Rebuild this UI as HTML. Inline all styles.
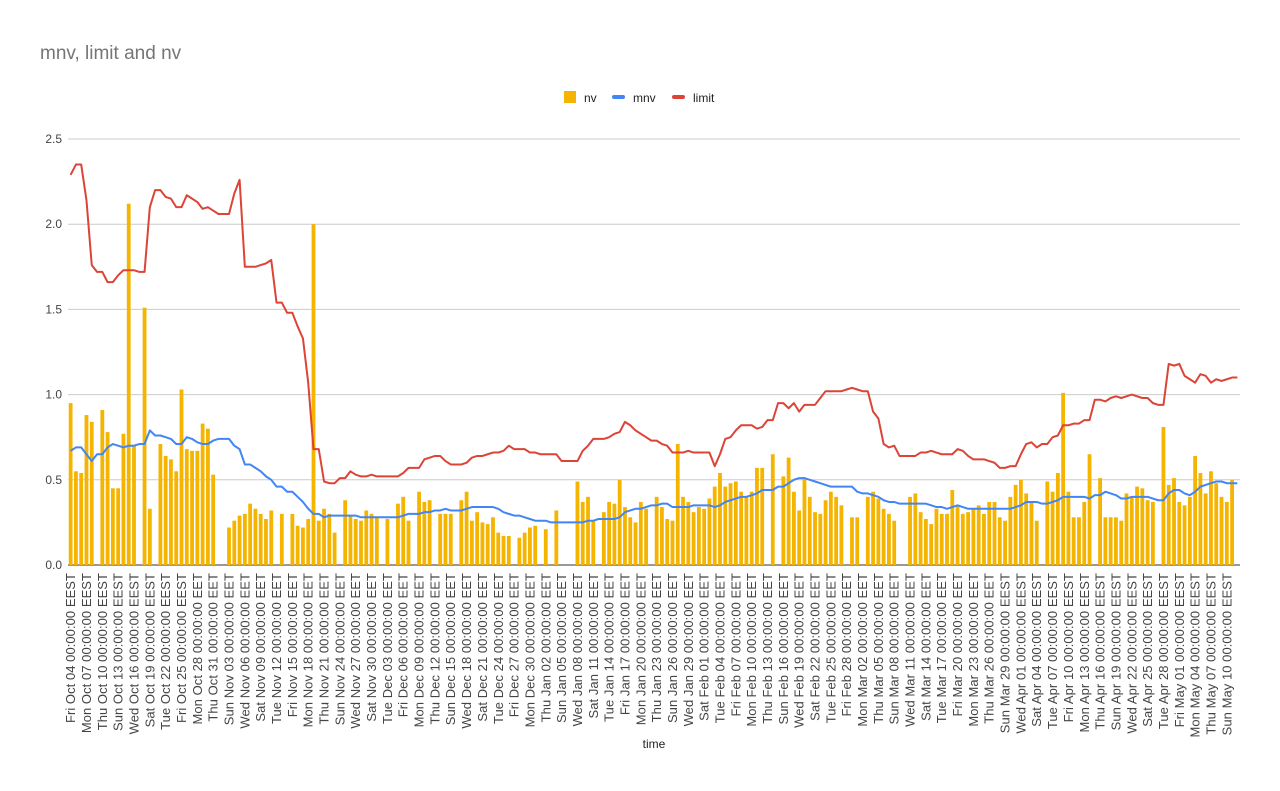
<!DOCTYPE html>
<html><head><meta charset="utf-8"><style>
html,body{margin:0;padding:0;background:#fff;}
svg{display:block;font-family:"Liberation Sans",Arial,sans-serif;}
</style></head><body>
<svg id="chart" width="1280" height="791" viewBox="0 0 1280 791">
<text x="40" y="59" font-size="19" fill="#757575">mnv, limit and nv</text>
<g>
 <g><rect x="564" y="91" width="12" height="12" fill="#f4b400"/><text x="584" y="102" font-size="12" fill="#222">nv</text></g>
 <g><rect x="612" y="95" width="13" height="4" rx="2" fill="#4285f4"/><text x="633" y="102" font-size="12" fill="#222">mnv</text></g>
 <g><rect x="672" y="95" width="13" height="4" rx="2" fill="#db4437"/><text x="693" y="102" font-size="12" fill="#222">limit</text></g>
</g>
<g id="grid"></g>
<g id="ylabels"></g>
<g id="bars"></g>
<g id="lines"></g>
<g id="xlabels"></g>
<text x="654" y="748" font-size="12" fill="#222" text-anchor="middle">time</text>
</svg>
<script>
const nvValues = [
.95,.55,.54,.88,.84,null,.91,.78,.45,.45,
.77,2.12,.70,null,1.51,.33,null,.71,.64,.62,
.55,1.03,.68,.67,.67,.83,.80,.53,null,null,
.22,.26,.29,.30,.36,.33,.30,.27,.32,null,
.30,null,.30,.23,.22,.27,2.0,.26,.33,.30,
.19,null,.38,.29,.27,.26,.32,.30,.28,null,
.27,null,.36,.40,.26,null,.43,.37,.38,null,
.30,.30,.30,null,.38,.43,.26,.31,.25,.24,
.28,.19,.17,.17,null,.16,.19,.22,.23,null,
.21,null,.32,null,null,null,.49,.37,.40,.26,
null,.31,.37,.36,.50,.34,.28,.25,.37,.33,
null,.40,.34,.27,.26,.71,.40,.37,.31,.34,
.33,.39,.46,.54,.46,.48,.49,.43,.40,.43,
.57,.57,null,.65,null,.52,.63,.43,.32,.51,
.40,.31,.30,.38,.43,.40,.35,null,.28,.28,
null,.40,.43,.39,.33,.30,.26,null,null,.40,
.42,.31,.27,.24,.33,.30,.30,.44,.35,.30,
.31,.33,.35,.30,.37,.37,.28,.26,.40,.47,
.50,.42,.37,.26,null,.49,.43,.54,1.01,.43,
.28,.28,.37,.65,null,.51,.28,.28,.28,.26,
.42,.40,.46,.45,.38,.37,null,.81,.47,.51,
.37,.35,.40,.64,.54,.42,.55,.48,.40,.37,
.50,null];
const mnvValues = [
.67,.69,.69,.65,.61,.65,.65,.69,.71,.70,
.69,.70,.70,.71,.71,.79,.76,.76,.75,.74,
.71,.71,.75,.74,.72,.71,.71,.73,.74,.74,
.74,.70,.68,.59,.59,.57,.55,.52,.50,.46,
.46,.43,.43,.40,.37,.33,.30,.30,.28,.29,
.29,.29,.29,.29,.29,.28,.28,.28,.28,.28,
.28,.28,.28,.29,.30,.30,.30,.31,.31,.32,
.32,.33,.32,.32,.32,.33,.34,.34,.34,.34,
.34,.33,.31,.30,.29,.29,.28,.27,.26,.26,
.26,.25,.25,.25,.25,.25,.25,.25,.26,.26,
.27,.27,.27,.27,.28,.31,.32,.33,.33,.34,
.35,.35,.36,.36,.34,.34,.34,.34,.35,.35,
.35,.35,.34,.35,.37,.38,.39,.40,.40,.41,
.42,.44,.44,.44,.46,.46,.48,.50,.51,.51,
.50,.49,.48,.47,.46,.46,.46,.46,.46,.43,
.42,.42,.41,.40,.38,.37,.37,.36,.36,.36,
.36,.36,.36,.35,.34,.34,.33,.34,.35,.34,
.33,.33,.33,.33,.33,.33,.33,.33,.33,.34,
.35,.37,.37,.37,.36,.36,.37,.38,.40,.40,
.40,.40,.40,.39,.41,.41,.43,.42,.41,.39,
.39,.40,.40,.40,.40,.39,.38,.38,.42,.44,
.44,.42,.41,.43,.46,.47,.48,.49,.49,.48,
.48,.48];
const limitValues = [
2.29,2.35,2.35,2.14,1.76,1.72,1.72,1.66,1.66,1.70,
1.73,1.73,1.73,1.72,1.72,2.10,2.20,2.20,2.16,2.15,
2.10,2.10,2.17,2.15,2.13,2.09,2.10,2.08,2.06,2.06,
2.06,2.18,2.26,1.75,1.75,1.75,1.76,1.77,1.79,1.54,
1.54,1.48,1.48,1.40,1.33,1.07,.68,.68,.49,.48,
.48,.51,.51,.55,.53,.52,.52,.53,.52,.52,
.52,.52,.52,.54,.57,.57,.57,.62,.63,.64,
.64,.61,.59,.59,.59,.60,.63,.64,.64,.65,
.66,.66,.67,.70,.68,.68,.68,.66,.66,.65,
.65,.65,.65,.61,.61,.61,.61,.67,.70,.74,
.74,.74,.75,.77,.78,.84,.82,.79,.77,.75,
.73,.73,.71,.70,.66,.66,.66,.67,.66,.66,
.66,.66,.58,.65,.74,.75,.79,.82,.82,.82,
.80,.81,.85,.85,.95,.95,.92,.95,.90,.94,
.94,.94,.98,1.02,1.02,1.02,1.02,1.03,1.04,1.03,
1.02,1.02,.90,.86,.71,.69,.70,.64,.64,.64,
.64,.66,.66,.67,.66,.65,.65,.65,.68,.67,
.64,.62,.62,.62,.61,.60,.57,.57,.58,.58,
.65,.71,.72,.69,.71,.71,.75,.76,.82,.82,
.83,.83,.85,.85,.97,.97,.96,.98,.99,.98,
.99,1.00,.99,.98,.98,.95,.94,.94,1.18,1.17,
1.18,1.11,1.09,1.07,1.12,1.11,1.07,1.09,1.08,1.09,
1.10,1.10];
const yTicks = [0,0.5,1,1.5,2,2.5];
const yTickLabels = ["0.0","0.5","1.0","1.5","2.0","2.5"];
const startDate = Date.UTC(2019,9,4);

const NS="http://www.w3.org/2000/svg";
const X0=68, X1=1240, Y0=565, YTOP=139, YMAX=2.5;
const N=nvValues.length;
const band=(X1-X0)/N;
function xs(i){return X0+band*(i+0.5);}
function ys(v){return Y0-(v/YMAX)*(Y0-YTOP);}
function mk(tag,attrs,parent){const e=document.createElementNS(NS,tag);for(const k in attrs)e.setAttribute(k,attrs[k]);parent.appendChild(e);return e;}

const grid=document.getElementById('grid'), yl=document.getElementById('ylabels');
yTicks.forEach((t,i)=>{
  const l=mk('line',{x1:X0,x2:X1,y1:ys(t),y2:ys(t),stroke:t===0?'#333':'#ccc','stroke-width':1},grid);
  
  
  const tx=mk('text',{x:62,y:ys(t)+4,'font-size':12,fill:'#444','text-anchor':'end'},yl);
  tx.textContent=yTickLabels[i];
  
  
});

const bars=document.getElementById('bars');
nvValues.forEach((v,i)=>{
  if(v==null)return;
  const r=mk('rect',{x:xs(i)-1.9,y:ys(v),width:3.8,height:Y0-ys(v),fill:'#f4b400'},bars);
  
  
});

const lines=document.getElementById('lines');
function drawLine(arr,color,name){
  const d=arr.map((v,i)=>(i?'L':'M')+xs(i).toFixed(2)+','+ys(v).toFixed(2)).join('');
  const p=mk('path',{d:d,fill:'none',stroke:color,'stroke-width':2,'stroke-linejoin':'round'},lines);
  
  
}
drawLine(mnvValues,'#4285f4','mnv-line');
drawLine(limitValues,'#db4437','limit-line');

const xl=document.getElementById('xlabels');
const WD=['Sun','Mon','Tue','Wed','Thu','Fri','Sat'];
const MO=['Jan','Feb','Mar','Apr','May','Jun','Jul','Aug','Sep','Oct','Nov','Dec'];
const dstEnd=Date.UTC(2019,9,27), dstStart=Date.UTC(2020,2,29);
for(let i=0;i<N;i+=3){
  const t=startDate+i*86400000; const d=new Date(t);
  if(i>219)break;
  const tz=(t<dstEnd||t>=dstStart)?'EEST':'EET';
  const s=WD[d.getUTCDay()]+' '+MO[d.getUTCMonth()]+' '+String(d.getUTCDate()).padStart(2,'0')+' 00:00:00 '+tz;
  const x=xs(i)+4.5, y=573;
  const tx=mk('text',{x:x,y:y,'font-size':13,'letter-spacing':0.05,fill:'#444','text-anchor':'end',transform:'rotate(-90 '+x+' '+y+')'},xl);
  tx.textContent=s;
  
  
}
</script>
</body></html>
